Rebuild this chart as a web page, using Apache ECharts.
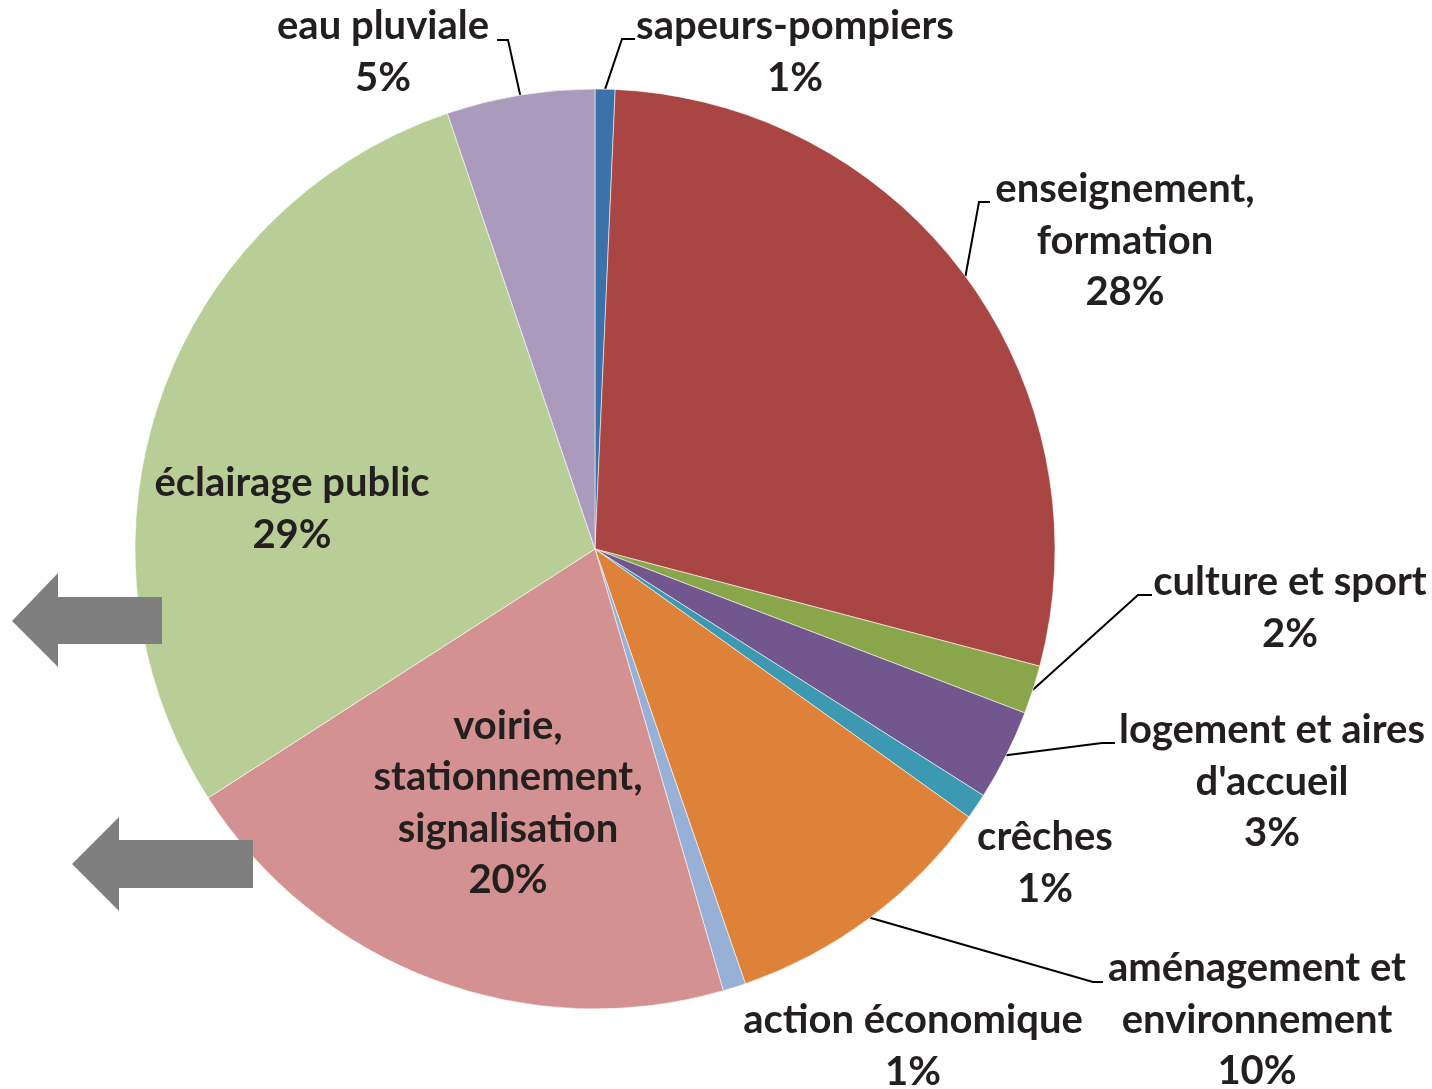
<!DOCTYPE html>
<html>
	<head>
		<meta charset="UTF-8">
		<title>Répartition par fonction</title>
		<style>
			html, body { margin: 0; padding: 0; background: #fff; }
			.box { width: 1432px; height: 1089px; }
		</style>
	</head>
	<body>
		<div class="box" id="box"></div>
	</body>
</html>
<script src="https://cdn.jsdelivr.net/npm/echarts@6/dist/echarts.min.js"></script>
<script>
	// data (share of the total, %)
	var categories = [
		'sapeurs-pompiers',
		'enseignement,\nformation',
		'culture et sport',
		"logement et aires\nd'accueil",
		'crêches',
		'aménagement et\nenvironnement',
		'action économique',
		'voirie,\nstationnement,\nsignalisation',
		'éclairage public',
		'eau pluviale'
	];
	var shares = [0.7, 28.4, 1.7, 3.2, 0.9, 9.8, 0.8, 20.4, 28.9, 5.2];
	var colors = ['#3a72a9', '#a94543', '#8aa64b', '#71578d', '#3c99b1',
		'#de8239', '#96b0d6', '#d39291', '#b9ce96', '#a99abe'];

	// labels drawn inside the pie / labels without a leader line
	var insideIdx = [7, 8];
	var noLeaderIdx = [4, 6];

	// where the label blocks sit (centre) and the bend + end of each leader
	var labelSpots = [[795, 52], [1125, 241], [1290, 608], [1272, 782], [1045, 863],
		[1257, 1020], [913, 1046], [508, 803], [292, 509], [383, 52]];
	var leaderKnees = [
		[[622, 39], [635, 39]],
		[[979, 202], [990, 202]],
		[[1138, 595], [1152, 595]],
		[[1102, 743], [1115, 743]],
		null,
		[[1093, 982], [1103, 982]],
		null, null, null,
		[[508, 40], [497, 40]]
	];

	var myChart = echarts.init(document.getElementById('box'));

	var pieData = categories.map(function (name, i) {
		var item = { name: name, value: shares[i], itemStyle: { color: colors[i] } };
		if (insideIdx.indexOf(i) > -1) {
			item.label = { position: 'inside' };
		}
		if (noLeaderIdx.indexOf(i) > -1) {
			item.labelLine = { show: false };
		}
		return item;
	});

	var option = {
		backgroundColor: '#fff',
		animation: false,
		series: [{
			type: 'pie',
			center: [595, 549],
			radius: 460,
			startAngle: 90,
			clockwise: true,
			avoidLabelOverlap: false,
			percentPrecision: 0,
			itemStyle: {
				borderColor: 'rgba(255,255,255,0.8)',
				borderWidth: 0.7
			},
			label: {
				show: true,
				position: 'outside',
				formatter: '{b}\n{d}%',
				fontFamily: 'Lato',
				fontWeight: 'bold',
				fontSize: 40,
				lineHeight: 51.5,
				color: '#231f20',
				align: 'center'
			},
			labelLine: {
				show: true,
				lineStyle: { color: '#000', width: 2 }
			},
			labelLayout: function (params) {
				var i = params.dataIndex;
				var s = labelSpots[i];
				var out = { x: s[0], y: s[1], align: 'center', verticalAlign: 'middle' };
				var k = leaderKnees[i];
				if (k && params.labelLinePoints) {
					out.labelLinePoints = [params.labelLinePoints[0], k[0], k[1]];
				}
				return out;
			},
			emphasis: { disabled: true },
			data: pieData
		}],
		// the two grey arrows pointing left
		graphic: [{
			type: 'polygon',
			z: 100,
			shape: { points: [[12, 621], [58, 573], [58, 597], [162, 597], [162, 644], [58, 644], [58, 667]] },
			style: { fill: '#7f7f7f' }
		}, {
			type: 'polygon',
			z: 100,
			shape: { points: [[72, 864], [119, 817], [119, 840], [253, 840], [253, 888], [119, 888], [119, 911]] },
			style: { fill: '#7f7f7f' }
		}]
	};
	myChart.setOption(option);
</script>
